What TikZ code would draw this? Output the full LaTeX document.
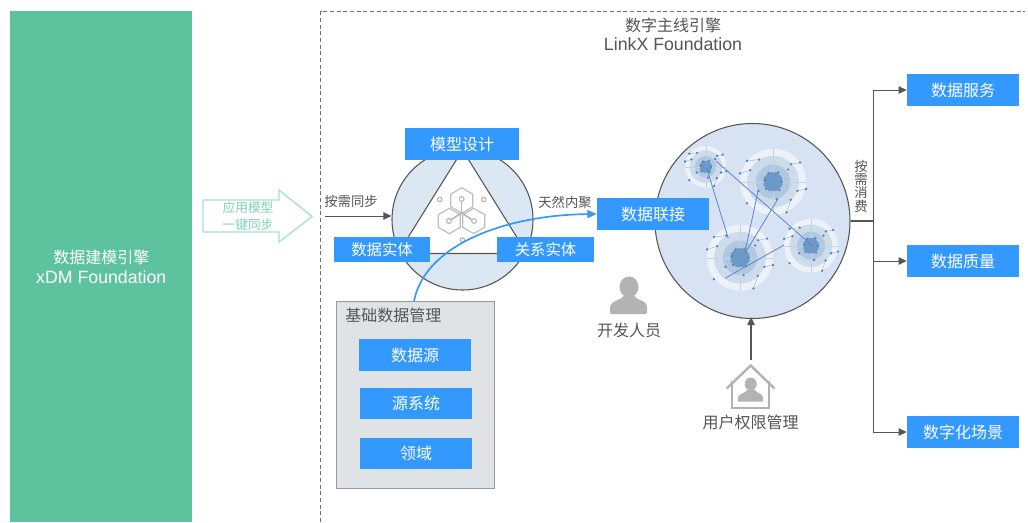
\documentclass[tikz,border=0pt]{standalone}
\usepackage{fontspec}
\setmainfont{Liberation Sans}
\newfontfamily\cjk{Noto Sans CJK SC}
\usetikzlibrary{arrows.meta,shapes.geometric,calc}
\definecolor{bluebox}{HTML}{3399FF}
\definecolor{greenpanel}{HTML}{5DC39F}
\definecolor{greenline}{HTML}{A3E2CB}
\definecolor{greentext}{HTML}{7FD3B4}
\definecolor{txt}{HTML}{555555}
\definecolor{linec}{HTML}{555555}
\definecolor{discfill}{HTML}{DCE7F4}
\definecolor{disc2}{HTML}{D7E2F2}
\definecolor{iconc}{HTML}{B3B3B3}
\definecolor{dotc}{HTML}{4A86C0}
\definecolor{link}{HTML}{5C86CC}
\definecolor{ringa}{HTML}{EDF2F9}
\definecolor{ringb}{HTML}{CEDBEA}
\definecolor{ringc}{HTML}{B0C8DF}
\definecolor{ringd}{HTML}{6C99C6}
\definecolor{ringl}{HTML}{C3D3E5}
\definecolor{mgmtfill}{HTML}{DFE3E6}
\tikzset{
  x=0.75pt,y=-0.75pt,
  bluenode/.style={fill=bluebox,text=white,font=\cjk\fontsize{12}{14}\selectfont,inner sep=0,minimum width=#1*0.75pt,anchor=center},
  bluenode/.default=112,
  label/.style={text=txt,font=\cjk\fontsize{12}{14.3}\selectfont,inner sep=0,align=center},
  small/.style={text=txt,font=\cjk\fontsize{10}{11}\selectfont,inner sep=0,align=center},
  conn/.style={draw=linec,line width=0.7pt},
  arrowc/.style={conn,-{Triangle[length=6pt,width=5.5pt]}},
  tri/.style={draw=linec,line width=0.8pt},
  hexl/.style={draw=iconc!85,line width=0.9pt},
  linkl/.style={draw=link,line width=0.6pt},
  ringn/.style={circle,inner sep=0,draw=none},
  curveb/.style={draw=bluebox,line width=1.25pt,-{Triangle[length=7pt,width=6pt]}},
}
% cluster: name, x, y, R (px)
\newcommand{\clusterdraw}[4]{%
  \begin{scope}[shift={(#2,#3)}]
    \node[ringn,fill=ringa,minimum size=#4*1.5pt] (#1) at (0,0) {};
    \node[ringn,fill=ringb,minimum size=#4*1.18pt] at (0,0) {};
    \node[ringn,fill=ringc,minimum size=#4*0.78pt] at (0,0) {};
    \draw[ringl,line width=.3pt] (-#4,0) -- (#4,0) (0,-#4) -- (0,#4);
    \node[regular polygon,regular polygon sides=8,inner sep=0,fill=ringd,minimum size=#4*0.46pt] at (0,0) {};
    \draw[ringl!60!dotc,line width=.3pt] (-.79*#4,-.63*#4) -- (-.42*#4,-.67*#4) (-1*#4,-.25*#4) -- (-.69*#4,-.35*#4) (.55*#4,-.53*#4) -- (.82*#4,-.58*#4) (.74*#4,.28*#4) -- (1*#4,.22*#4) (.54*#4,.55*#4) -- (.41*#4,.93*#4);
    \foreach \a/\b in {-.79/-.63,-.42/-.67,-1/-.25,-.69/-.35,.55/-.53,.82/-.58,.46/-.37,.74/.28,1/.22,.54/.55,.41/.93,-.79/.65,-.44/.28,.11/.53,-.21/.22,.19/.25,.26/0,-.24/-.05,-.14/-.25,.16/-.28}{
      \fill[dotc] (\a*#4,\b*#4) circle (1.3);
    }
  \end{scope}
}
\begin{document}
\begin{tikzpicture}
\useasboundingbox (0,0) rectangle (1028,522);
\fill[white] (0,0) rectangle (1028,522);

% left panel
\node[fill=greenpanel,text=white,font=\fontsize{13.3}{15}\selectfont,align=center,inner sep=0,minimum width=136.5pt,minimum height=383.25pt,anchor=north west] (xdm) at (10,11) {{\cjk\fontsize{12}{15}\selectfont 数据建模引擎}\\xDM Foundation};

% sync arrow
\draw[greenline,line width=1pt] (203,200) -- (279,200) -- (279,190) -- (312,216.5) -- (279,242) -- (279,232) -- (203,232) -- cycle;
\node[text=greentext,font=\cjk\fontsize{9.5}{12.5}\selectfont,align=center,inner sep=0] (syncl) at (248,216) {应用模型\\一键同步};

% dashed frame
\draw[draw=linec!85,line width=0.6pt,dash pattern=on 3pt off 2pt] (320.5,522) -- (320.5,11.5) -- (1025,11.5);
\node[label] (title) at (673,34.5) {{\cjk 数字主线引擎}\\{\fontsize{13.3}{14.3}\selectfont\rmfamily LinkX Foundation}};

% triangle disc
\node[circle,draw=linec,fill=discfill,line width=0.8pt,minimum size=105.75pt,inner sep=0] (disc) at (462.5,219.5) {};
\coordinate (ta) at (462.5,150);
\coordinate (tb) at (398,253.5);
\coordinate (tc) at (527,253.5);
\filldraw[tri,fill=white] (ta) -- (tb) -- (tc) -- cycle;

% logo
\foreach \cx/\cy in {461.7/200.5,449.3/221,473.7/221}{
  \node[regular polygon,regular polygon sides=6,rotate=30,hexl,minimum size=19pt,inner sep=0] at (\cx,\cy) {};
}
\foreach \px/\py in {461.7/199,449/221,474/221}{
  \draw[iconc,line width=1.1pt] (461.7,213) -- (\px,\py);
  \filldraw[draw=iconc,fill=white,line width=.8pt] (\px,\py) circle (2.4);
}
\foreach \px/\py in {439.7/199.5,483.7/199.5,462.3/240}{
  \draw[iconc,line width=.8pt] (\px,\py) circle (2.2);
}

\node[bluenode=114,minimum height=24pt] (model) at (462,144) {模型设计};
\node[bluenode=96,minimum height=18.75pt,font=\cjk\fontsize{11.5}{13}\selectfont] (entity) at (382,249.5) {数据实体};
\node[bluenode=97,minimum height=18.75pt,font=\cjk\fontsize{11.5}{13}\selectfont] (rel) at (545.5,249.5) {关系实体};

% on-demand sync
\coordinate (syncstart) at (325,216);
\draw[arrowc] (syncstart) -- (disc.west |- syncstart);
\node[small] (ondemand) at (351,201) {按需同步};
\node[small] (cohesion) at (565,202) {天然内聚};

% management panel
\node[draw=gray!80,line width=0.9pt,fill=mgmtfill,minimum width=118.5pt,minimum height=140pt,inner sep=0,anchor=north west] (mgmt) at (336,301) {};
\node[label,anchor=west] (mgmtl) at (345,315) {基础数据管理};
\node[bluenode=112,minimum height=24pt] (src) at (415,355) {数据源};
\node[bluenode=112,minimum height=23.25pt] (sys) at (416,403.5) {源系统};
\node[bluenode=112,minimum height=23.25pt] (dom) at (416,453.5) {领域};

% network disc
\node[circle,draw=linec,fill=disc2,line width=0.8pt,minimum size=146.25pt,inner sep=0] (net) at (752.5,221) {};
\clusterdraw{c1}{705.7}{166.7}{20.7}
\clusterdraw{c2}{773}{181.7}{33}
\clusterdraw{c3}{740}{257.7}{33}
\clusterdraw{c4}{811}{245.7}{27}
\draw[linkl] (706.7,168.3) -- (728.3,238.3);
\draw[linkl] (758.3,190) -- (745,251.7);
\draw[linkl] (778.3,198.3) -- (745,253.3);
\draw[linkl] (716,161) -- (813.3,246.7);
\draw[linkl] (784,245) -- (725,278.3);

% box and curve on top of the discs
\node[bluenode=112,minimum height=24pt] (linkx) at (653,214) {数据联接};
\coordinate (curvestart) at (414,301);
\draw[curveb] (curvestart) .. controls (425,245) and (505,215) .. (linkx.west);

% people
\fill[iconc] (629,287) ellipse (9.5 and 10.5);
\fill[iconc,rounded corners=1pt] (610,314) -- (610,307) .. controls (612,300) and (622,300) .. (624,295) -- (634,295) .. controls (636,300) and (646,300) .. (647,307) -- (647,314) -- cycle;
\node[label] (dev) at (629,330) {开发人员};

\draw[iconc,line width=1.8pt] (726.7,388.5) -- (750.7,365.5) -- (774.5,388.5);
\draw[iconc,line width=1.8pt] (731.7,381) -- (731.7,408) -- (769,408) -- (769,381);
\fill[iconc] (750.7,384) ellipse (6 and 6.5);
\fill[iconc] (738,401.7) -- (738,397) .. controls (740,393) and (746,393) .. (747,390) -- (755,390) .. controls (756,393) and (762,393) .. (763,397) -- (763,401.7) -- cycle;
\coordinate (housetop) at (751,360);
\coordinate (netsouth) at (751,317);
\draw[arrowc,line width=1pt] (housetop) -- (netsouth);
\node[label] (perm) at (750.5,422) {用户权限管理};

% right outputs
\node[bluenode=112,minimum height=24pt] (svc) at (963,90) {数据服务};
\node[bluenode=112,minimum height=24pt] (qual) at (963,261) {数据质量};
\node[bluenode=112,minimum height=24pt] (scene) at (963,432) {数字化场景};
\coordinate (trunk) at (873,221);
\draw[conn,line width=0.9pt] (net.east) -- (trunk);
\draw[arrowc] (trunk) |- (svc.west);
\draw[arrowc] (trunk) |- (qual.west);
\draw[arrowc] (trunk) |- (scene.west);
\node[small,font=\cjk\fontsize{10}{10}\selectfont] (consume) at (861,186) {按\\需\\消\\费};
\end{tikzpicture}
\end{document}
